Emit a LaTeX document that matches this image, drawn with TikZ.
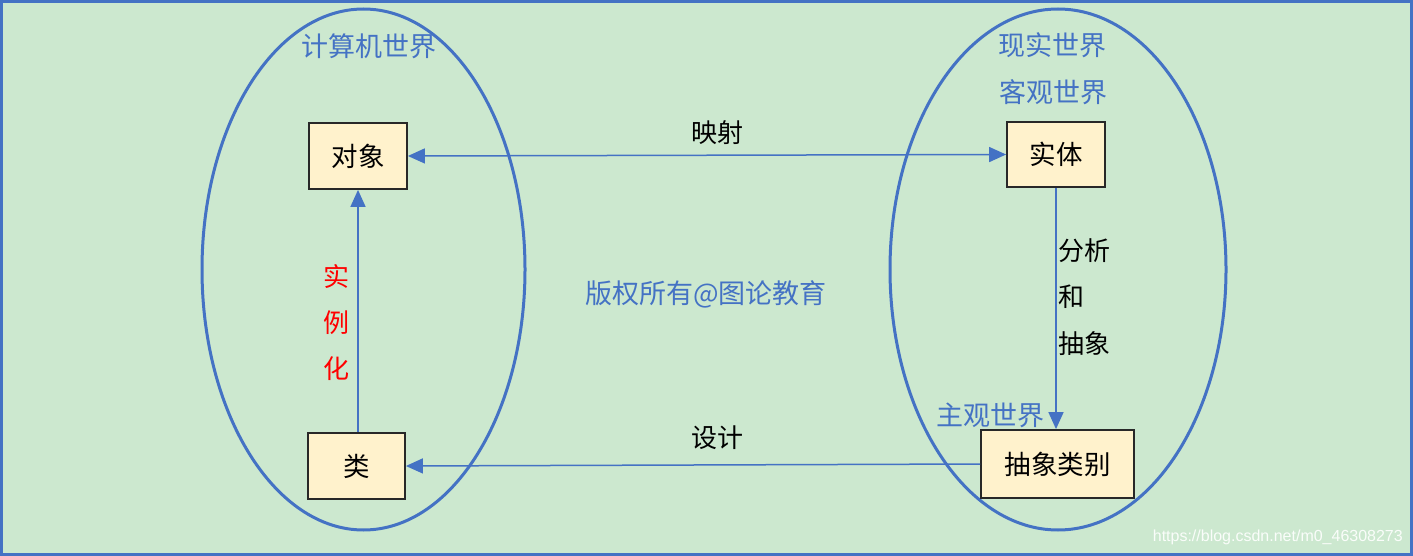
\documentclass[tikz,border=0pt]{standalone}
\usepackage{fontspec}
\setmainfont{Noto Sans CJK SC}
\newfontfamily\wmfont{Liberation Sans}
\usetikzlibrary{arrows.meta}
\definecolor{bg}{RGB}{204,232,207}
\definecolor{lineblue}{RGB}{68,114,196}
\definecolor{boxfill}{RGB}{255,242,204}
\definecolor{boxline}{RGB}{40,40,40}
\tikzset{
  box/.style={draw=boxline, line width=1.8pt, fill=boxfill, inner sep=0pt, font=\fontsize{26.5}{30}\selectfont},
  link/.style={draw=lineblue, line width=1.5pt, -{Triangle[length=17pt,width=15pt]}},
  world/.style={draw=lineblue, line width=3pt},
  bluelabel/.style={text=lineblue, font=\fontsize{27}{30}\selectfont, inner sep=0pt},
  blacklabel/.style={text=black, font=\fontsize{26}{30}\selectfont, inner sep=0pt},
  redlabel/.style={text=red, font=\fontsize{26}{30}\selectfont, inner sep=0pt}
}
\begin{document}
\begin{tikzpicture}[x=1pt,y=-1pt]
\useasboundingbox (0,0) rectangle (1413,556);
\fill[bg] (0,0) rectangle (1413,556);
\draw[lineblue, line width=3pt] (1.5,1.5) rectangle (1411.5,554.5);
% worlds
\draw[world] (363.5,269.5) ellipse [x radius=161.5, y radius=260.5];
\draw[world] (1058,269.5) ellipse [x radius=168, y radius=260.5];
% boxes
\node[box, minimum width=98pt, minimum height=66pt] (obj) at (358,156) {对象};
\node[box, minimum width=98pt, minimum height=65pt] (ent) at (1056,154.5) {实体};
\node[box, minimum width=97pt, minimum height=66pt] (cls) at (356.5,466) {类};
\node[box, minimum width=153pt, minimum height=68pt] (abs) at (1057.5,464) {抽象类别};
% connectors
\draw[link, {Triangle[length=17pt,width=15pt]}-{Triangle[length=17pt,width=15pt]}] (obj.east) -- (ent.west);
\draw[link] (cls.north -| obj.south) -- (obj.south);
\draw[link] (ent.south) -- (abs.north -| ent.south);
\draw[link] (abs.west) -- (cls.east);
% labels
\node[blacklabel] (lmap) at (717,133) {映射};
\node[blacklabel] (ldesign) at (717,438) {设计};
\node[blacklabel, anchor=west] (la1) at (1058,251) {分析};
\node[blacklabel, anchor=west] (la2) at (1058,297) {和};
\node[blacklabel, anchor=west] (la3) at (1058,344) {抽象};
\node[redlabel] (r1) at (336,276) {实};
\node[redlabel] (r2) at (336,323) {例};
\node[redlabel] (r3) at (336,369) {化};
\node[bluelabel] (wcomp) at (369,46) {计算机世界};
\node[bluelabel] (wreal) at (1052,45) {现实世界};
\node[bluelabel] (wobj) at (1053,92) {客观世界};
\node[bluelabel] (wsub) at (990,415) {主观世界};
\node[bluelabel] (copy) at (706,294) {版权所有@图论教育};
\node[text=white!90!bg, font=\wmfont\fontsize{16}{18}\selectfont, anchor=east, inner sep=0pt] (wm) at (1403,537) {https://blog.csdn.net/m0\_46308273};
\end{tikzpicture}
\end{document}
